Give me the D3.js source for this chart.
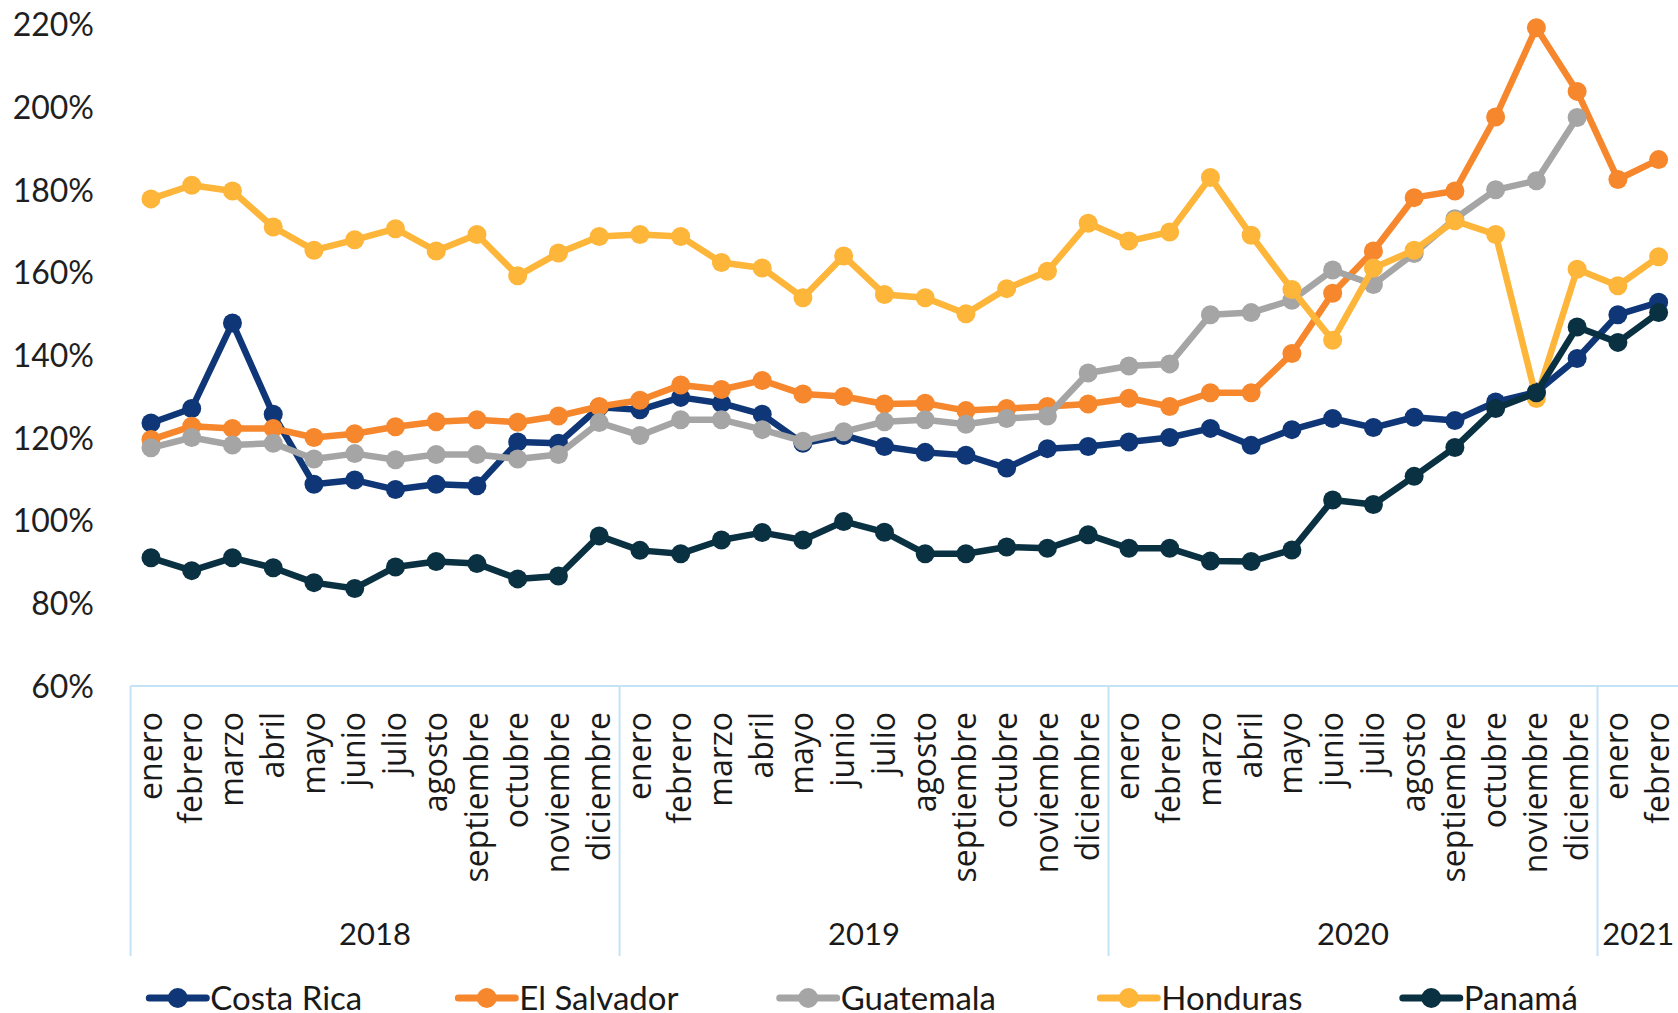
<!DOCTYPE html>
<html>
<head>
<meta charset="utf-8">
<script src="https://cdn.jsdelivr.net/npm/d3@7"></script>
<style>
  html, body { margin: 0; padding: 0; background: #fff; overflow: hidden; }
  svg { display: block; }
</style>
</head>
<body>
<svg id="chart" width="1678" height="1013"></svg>
<script>
// ---------- DATA ----------
const monthNames = ["enero","febrero","marzo","abril","mayo","junio","julio","agosto","septiembre","octubre","noviembre","diciembre"];
const years = ["2018","2019","2020","2021"];
const monthsPerYear = [12, 12, 12, 2];
const seriesNames = ["Costa Rica","El Salvador","Guatemala","Honduras","Panamá"];
const seriesColors = ["#0F3777","#F6872D","#A5A5A5","#FDB53A","#0A3142"];
const yTickValues = [60, 80, 100, 120, 140, 160, 180, 200, 220];

const costaRica = [123.6,127.1,147.8,125.7,108.8,109.8,107.5,108.8,108.4,119.0,118.7,127.4,
  126.8,129.8,128.4,125.7,118.7,120.6,117.9,116.5,115.8,112.7,117.4,117.9,
  119.0,120.1,122.3,118.2,122.0,124.7,122.5,125.0,124.2,128.7,131.1,139.2,
  149.8,152.8];
const elSalvador = [119.6,122.8,122.3,122.3,120.1,121.0,122.7,123.9,124.4,123.8,125.3,127.6,
  129.1,132.8,131.7,133.9,130.6,130.0,128.2,128.4,126.6,127.1,127.6,128.2,
  129.6,127.6,130.9,130.9,140.4,155.0,165.2,178.1,179.7,197.6,219.2,203.8,
  182.5,187.3];
const guatemala = [117.6,120.1,118.3,118.7,114.9,116.2,114.7,116.0,116.0,114.9,116.0,123.7,
  120.6,124.4,124.4,122.0,119.2,121.5,123.9,124.4,123.3,124.7,125.3,135.7,
  137.4,137.9,149.8,150.3,153.3,160.6,157.1,164.6,173.0,180.0,182.2,197.5,
  null,null];
const honduras = [177.8,181.1,179.7,171.0,165.4,167.9,170.6,165.2,169.2,159.2,164.7,168.7,
  169.2,168.7,162.4,161.1,153.9,164.0,154.7,153.9,150.0,156.1,160.3,171.9,
  167.6,169.8,183.0,169.0,155.9,143.6,161.1,165.4,172.5,169.2,129.5,160.8,
  156.8,163.8];
const panama = [91.0,87.9,91.0,88.6,85.0,83.6,88.8,90.1,89.6,85.9,86.6,96.3,
  92.8,92.0,95.3,97.1,95.3,99.8,97.2,92.0,92.0,93.6,93.3,96.6,
  93.3,93.3,90.2,90.1,92.9,105.0,103.9,110.7,117.7,127.1,130.9,146.8,
  143.1,150.3];

// ---------- BUILD ----------
const categories = [];
const yearGroups = [];
years.forEach((yr, yi) => {
  const start = categories.length;
  for (let m = 0; m < monthsPerYear[yi]; m++) {
    categories.push({ key: yr + "-" + m, month: monthNames[m], year: yr });
  }
  yearGroups.push({ year: yr, first: categories[start].key, last: categories[categories.length - 1].key });
});
const seriesValues = [costaRica, elSalvador, guatemala, honduras, panama];
const series = seriesNames.map((name, i) => ({
  name, color: seriesColors[i],
  values: categories.map((c, j) => ({ key: c.key, v: seriesValues[i][j] }))
}));

// ---------- LAYOUT ----------
const svg = d3.select("#chart");
const plotLeft = 130.6, plotRight = 1679, plotTop = 24.4, plotBottom = 686;
const axisColor = "#C5E3F6";

const x = d3.scaleBand().domain(categories.map(c => c.key)).range([plotLeft, plotRight]).padding(0);
const y = d3.scaleLinear().domain([60, 220]).range([plotBottom, plotTop]);
const cx = k => x(k) + x.bandwidth() / 2;

// Y axis labels
const yAxis = d3.axisLeft(y).tickValues(yTickValues).tickFormat(d => d + "%").tickSize(0).tickPadding(0);
const gy = svg.append("g").attr("transform", "translate(94,0)").call(yAxis);
gy.select(".domain").remove();
gy.selectAll("text")
  .attr("font-family", "Lato, 'Open Sans', sans-serif")
  .attr("font-size", 32)
  .attr("fill", "#1f1f1f")
  .attr("dy", "0.35em");

// X axis (months)
const xAxis = d3.axisBottom(x).tickSize(0).tickFormat(k => categories.find(c => c.key === k).month);
const gx = svg.append("g").attr("transform", `translate(0,${plotBottom})`).call(xAxis);
gx.select(".domain").remove();
gx.selectAll(".tick text")
  .attr("font-family", "'Open Sans', sans-serif")
  .attr("font-size", 32)
  .attr("fill", "#1a1a1a")
  .attr("text-anchor", "end")
  .attr("transform", "rotate(-90)")
  .attr("x", -26)
  .attr("y", 0)
  .attr("dy", "0.33em");

// Axis line and year dividers
svg.append("line")
  .attr("x1", plotLeft).attr("x2", plotRight)
  .attr("y1", plotBottom).attr("y2", plotBottom)
  .attr("stroke", axisColor).attr("stroke-width", 2);

const dividerBottom = 956;
const dividerXs = [plotLeft].concat(yearGroups.map(g => x(g.last) + x.bandwidth()));
svg.selectAll(".divider").data(dividerXs).enter().append("line")
  .attr("class", "divider")
  .attr("x1", d => d).attr("x2", d => d)
  .attr("y1", plotBottom).attr("y2", dividerBottom)
  .attr("stroke", axisColor).attr("stroke-width", 2);

// Year labels
svg.selectAll(".yearLabel").data(yearGroups).enter().append("text")
  .attr("class", "yearLabel")
  .attr("x", g => (x(g.first) + x(g.last) + x.bandwidth()) / 2)
  .attr("y", 945)
  .attr("text-anchor", "middle")
  .attr("font-family", "Lato, 'Open Sans', sans-serif")
  .attr("font-size", 31)
  .attr("fill", "#1a1a1a")
  .text(g => g.year);

// Lines and markers
const line = d3.line()
  .defined(d => d.v != null)
  .x(d => cx(d.key))
  .y(d => y(d.v));

const sg = svg.selectAll(".series").data(series).enter().append("g").attr("class", "series");
sg.append("path")
  .attr("d", s => line(s.values))
  .attr("fill", "none")
  .attr("stroke", s => s.color)
  .attr("stroke-width", 6.5)
  .attr("stroke-linejoin", "round");
sg.selectAll("circle").data(s => s.values.filter(d => d.v != null).map(d => ({ ...d, color: s.color })))
  .enter().append("circle")
  .attr("cx", d => cx(d.key))
  .attr("cy", d => y(d.v))
  .attr("r", 9.5)
  .attr("fill", d => d.color);

// Legend
const legendStarts = [149.3, 458.3, 779.7, 1100.3, 1402.8];
const legendY = 998;
const lg = svg.selectAll(".legend").data(series).enter().append("g")
  .attr("class", "legend")
  .attr("transform", (s, i) => `translate(${legendStarts[i]},${legendY})`);
lg.append("line")
  .attr("x1", 0).attr("x2", 57).attr("y1", 0).attr("y2", 0)
  .attr("stroke", s => s.color).attr("stroke-width", 7).attr("stroke-linecap", "round");
lg.append("circle").attr("cx", 28.5).attr("cy", 0).attr("r", 10).attr("fill", s => s.color);
lg.append("text")
  .attr("x", 61).attr("y", 12)
  .attr("font-family", "Lato, 'Open Sans', sans-serif")
  .attr("font-size", 33)
  .attr("fill", "#1a1a1a")
  .text(s => s.name);
</script>
</body>
</html>
